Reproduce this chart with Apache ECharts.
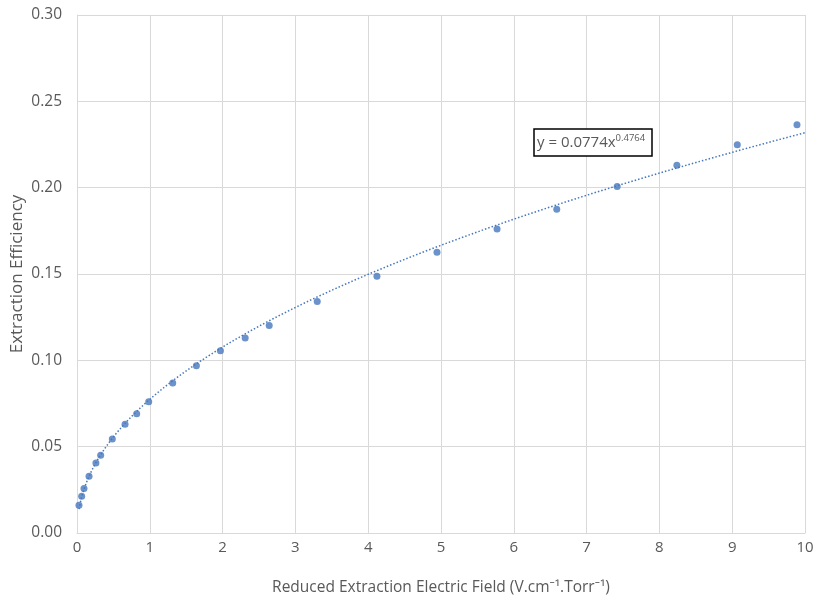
<!DOCTYPE html>
<html>
<head>
<meta charset="utf-8">
<script src="https://cdn.jsdelivr.net/npm/echarts@6/dist/echarts.min.js"></script>
<style>
  html, body { margin: 0; padding: 0; background: #ffffff; }
  #chart { width: 816px; height: 599px; }
</style>
</head>
<body>
<div id="chart"></div>
<script>
// Measured extraction efficiency vs reduced extraction field
const fieldValues = [0.027, 0.064, 0.096, 0.165, 0.26, 0.325, 0.485, 0.66, 0.82, 0.985,
  1.315, 1.64, 1.97, 2.31, 2.64, 3.30, 4.12, 4.945, 5.77, 6.59, 7.42, 8.24, 9.07, 9.89];
const efficiencyValues = [0.0161, 0.0213, 0.0258, 0.0328, 0.0405, 0.045, 0.0545, 0.063, 0.069, 0.076,
  0.0869, 0.0969, 0.1055, 0.113, 0.1202, 0.1341, 0.1487, 0.1626, 0.176, 0.1875, 0.2007, 0.213, 0.2248, 0.2365];

// Power-law fit y = a * x^b (coefficients as printed on the chart)
const fitA = 0.0774;
const fitB = 0.4764;
const fitLabel = ['y = 0.0774x', '0.4764'];

const xTicks = [0, 1, 2, 3, 4, 5, 6, 7, 8, 9, 10];
const yTicks = [0, 0.05, 0.10, 0.15, 0.20, 0.25, 0.30];

const points = fieldValues.map((x, i) => [x, efficiencyValues[i]]);

// Trend curve sampled along the x range of the data up to the axis end
const trend = [];
const xStart = fieldValues[0];
const xEnd = xTicks[xTicks.length - 1];
const steps = 300;
for (let i = 0; i <= steps; i++) {
  const x = xStart + (xEnd - xStart) * i / steps;
  trend.push([x, fitA * Math.pow(x, fitB)]);
}

const chart = echarts.init(document.getElementById('chart'));
const txt = '#595959';
const fontFam = '"Open Sans", "Noto Sans", sans-serif';

chart.setOption({
  animation: false,
  backgroundColor: '#ffffff',
  grid: { left: 77, right: 11, top: 15, bottom: 66, containLabel: false, outerBoundsMode: 'none' },
  xAxis: {
    type: 'value',
    min: xTicks[0],
    max: xTicks[xTicks.length - 1],
    interval: 1,
    name: 'Reduced Extraction Electric Field (V.cm\u207B\u00B9.Torr\u207B\u00B9)',
    nameLocation: 'middle',
    nameGap: 47,
    nameMoveOverlap: false,
    nameTextStyle: { color: txt, fontSize: 15.5, fontFamily: fontFam },
    axisLine: { show: true, lineStyle: { color: '#d9d9d9', width: 1 } },
    axisTick: { show: false },
    axisLabel: { color: txt, fontSize: 15, fontFamily: fontFam, margin: 7 },
    splitLine: { show: true, lineStyle: { color: '#d9d9d9', width: 1 } }
  },
  yAxis: {
    type: 'value',
    min: yTicks[0],
    max: yTicks[yTicks.length - 1],
    interval: 0.05,
    name: 'Extraction Efficiency',
    nameLocation: 'middle',
    nameGap: 51,
    nameMoveOverlap: false,
    nameTextStyle: { color: txt, fontSize: 17, fontFamily: fontFam },
    axisLine: { show: true, lineStyle: { color: '#d9d9d9', width: 1 } },
    axisTick: { show: false },
    axisLabel: {
      color: txt, fontSize: 15.5, fontFamily: fontFam, margin: 15,
      formatter: v => v.toFixed(2)
    },
    splitLine: { show: true, lineStyle: { color: '#d9d9d9', width: 1 } }
  },
  series: [
    {
      name: 'Power fit',
      type: 'line',
      data: trend,
      showSymbol: false,
      smooth: false,
      lineStyle: { color: '#4677bd', width: 1.5, type: [1.5, 2] },
      z: 2,
      silent: true
    },
    {
      name: 'Efficiency',
      type: 'scatter',
      data: points,
      symbol: 'circle',
      symbolSize: 7,
      itemStyle: { color: '#4677bd' },
      z: 3
    }
  ],
  graphic: [
    {
      type: 'rect',
      shape: { x: 534, y: 129, width: 118, height: 27 },
      style: { fill: '#ffffff', stroke: '#000000', lineWidth: 1.5 },
      z: 10
    },
    {
      type: 'text',
      x: 537,
      y: 133,
      style: {
        rich: {
          base: { fontSize: 15, fontFamily: fontFam, fill: txt },
          sup: { fontSize: 9.5, fontFamily: fontFam, fill: txt, verticalAlign: 'top', padding: [0, 0, 9, 0] }
        },
        text: '{base|' + fitLabel[0] + '}{sup|' + fitLabel[1] + '}'
      },
      z: 11
    }
  ]
});
</script>
</body>
</html>
